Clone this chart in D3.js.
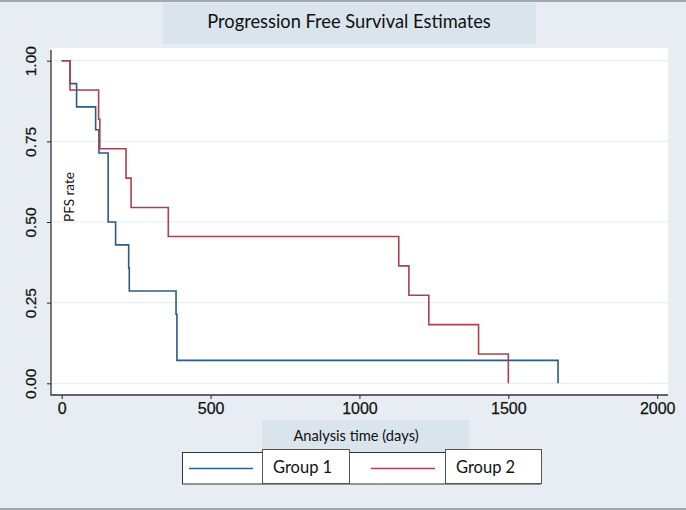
<!DOCTYPE html>
<html>
<head>
<meta charset="utf-8">
<title>Progression Free Survival Estimates</title>
<script src="https://cdn.jsdelivr.net/npm/d3@7"></script>
<style>
	body { margin:0; background:#e7edf2; }
	svg { display:block; }
	.tick line { stroke:#222; }
</style>
</head>
<body>
<svg id="chart-1" width="686" height="510"></svg>
<script>
// Kaplan-Meier step data: time of each event (days) and survival after it
const group1Times = [0, 28, 50, 114, 125, 156, 181, 225, 227, 384, 387, 1667];
const group1Surv  = [1, 0.929, 0.857, 0.786, 0.714, 0.5, 0.429, 0.357, 0.286, 0.214, 0.071, 0];
const group2Times = [0, 28, 124, 128, 216, 233, 358, 1132, 1166, 1233, 1400, 1500];
const group2Surv  = [1, 0.909, 0.818, 0.727, 0.636, 0.545, 0.455, 0.364, 0.273, 0.182, 0.091, 0];

const xTicks = [0, 500, 1000, 1500, 2000];
const yTicks = [0, 0.25, 0.5, 0.75, 1];
const groupNames = ['Group 1', 'Group 2'];
const groupColors = ['#2f5a84', '#a9424e'];

const titleText = 'Progression Free Survival Estimates';
const xLabel = 'Analysis time (days)';
const yLabel = 'PFS rate';

const W = 686, H = 510;
const AXIS_FONT = 'Liberation Sans';
const LABEL_FONT = 'Lato';
// plot region (white box)
const plot = {left:51, right:668, top:48, bottom:395};

const svg = d3.select('svg#chart-1');

// background + outer frame lines
svg.append('rect').attr('x',0).attr('y',0).attr('width',W).attr('height',H).attr('fill','#e7edf2');
svg.append('rect').attr('x',0).attr('y',0).attr('width',W).attr('height',2).attr('fill','#a3a8ad');
svg.append('rect').attr('x',0).attr('y',508).attr('width',W).attr('height',2).attr('fill','#a3a8ad');

svg.append('rect')
	.attr('x',plot.left).attr('y',plot.top)
	.attr('width',plot.right-plot.left).attr('height',plot.bottom-plot.top)
	.attr('fill','#ffffff');

const x = d3.scaleLinear().domain([0, 2000]).range([61.7, 657.2]);
const y = d3.scaleLinear().domain([0, 1]).range([383.3, 60.7]);

// grid
svg.append('g').selectAll('line').data(yTicks)
	.enter().append('line')
		.attr('x1',plot.left+1).attr('x2',plot.right)
		.attr('y1',d=>y(d)).attr('y2',d=>y(d))
		.attr('stroke','#e8edf1').attr('stroke-width',1.2);

// axes
const yAxis = svg.append('g')
	.attr('transform',`translate(${plot.left},0)`)
	.call(d3.axisLeft(y).tickValues(yTicks).tickFormat(d3.format('.2f')).tickSize(4).tickSizeOuter(0))
	.attr('font-family',AXIS_FONT);
yAxis.select('.domain').remove();
yAxis.selectAll('.tick text')
	.attr('font-size',15.5)
	.attr('fill','#111')
	.attr('stroke','#111').attr('stroke-width',0.25)
	.attr('transform','rotate(-90)')
	.attr('x',0).attr('y',-20)
	.attr('dy','0.32em')
	.attr('text-anchor','middle');

const xAxis = svg.append('g')
	.attr('transform',`translate(0,${plot.bottom})`)
	.call(d3.axisBottom(x).tickValues(xTicks).tickFormat(d3.format('d')).tickSize(4).tickSizeOuter(0))
	.attr('font-family',AXIS_FONT);
xAxis.select('.domain').remove();
xAxis.selectAll('.tick text')
	.attr('font-size',16)
	.attr('fill','#111')
	.attr('stroke','#111').attr('stroke-width',0.25)
	.attr('y',8);

// frame lines (left + bottom)
svg.append('path')
	.attr('d',`M${plot.left},${plot.top+2}V${plot.bottom}H${plot.right}`)
	.attr('fill','none').attr('stroke','#333').attr('stroke-width',1.3);

// survival curves
const line = d3.line()
	.x(d => x(d[0]))
	.y(d => y(d[1]))
	.curve(d3.curveStepAfter);

const curves = [
	d3.zip(group1Times, group1Surv),
	d3.zip(group2Times, group2Surv)
];
svg.append('g').selectAll('path').data(curves)
	.enter().append('path')
		.attr('d',line)
		.attr('fill','none')
		.attr('stroke',(d,i)=>groupColors[i])
		.attr('stroke-width',1.6);

// y label inside plot
svg.append('text')
	.attr('transform','translate(74,222) rotate(-90)')
	.attr('font-family',LABEL_FONT)
	.attr('font-size',13.6)
	.attr('fill','#111')
	.text(yLabel);

// title box
svg.append('rect')
	.attr('x',163).attr('y',3).attr('width',373).attr('height',41)
	.attr('fill','#dae4ed');
svg.append('text')
	.attr('x',349).attr('y',27.5)
	.attr('text-anchor','middle')
	.attr('font-family',LABEL_FONT)
	.attr('font-size',18.3)
	.attr('fill','#111')
	.text(titleText);

// x label box
svg.append('rect')
	.attr('x',262).attr('y',420).attr('width',207).attr('height',32)
	.attr('fill','#dae4ed');
svg.append('text')
	.attr('x',356).attr('y',441)
	.attr('text-anchor','middle')
	.attr('font-family',LABEL_FONT)
	.attr('font-size',14.7)
	.attr('fill','#111')
	.text(xLabel);

// legend
const legend = svg.append('g');
legend.append('rect')
	.attr('x',182.5).attr('y',452.5).attr('width',358).attr('height',31.5)
	.attr('fill','#fff').attr('stroke','#333').attr('stroke-width',1);

const keyX = [189, 371];
const boxX = [262, 445];
const boxW = [87, 96];
groupNames.forEach((name,i) => {
	legend.append('line')
		.attr('x1',keyX[i]).attr('x2',keyX[i]+64)
		.attr('y1',468.5).attr('y2',468.5)
		.attr('stroke',groupColors[i]).attr('stroke-width',1.6);
	legend.append('rect')
		.attr('x',boxX[i]+0.5).attr('y',449.5).attr('width',boxW[i]).attr('height',34)
		.attr('fill','#fff').attr('stroke','#555').attr('stroke-width',1);
	legend.append('text')
		.attr('x',boxX[i]+11).attr('y',472.5)
		.attr('font-family',LABEL_FONT)
		.attr('font-size',16.5)
		.attr('fill','#111')
		.text(name);
});
</script>
</body>
</html>
